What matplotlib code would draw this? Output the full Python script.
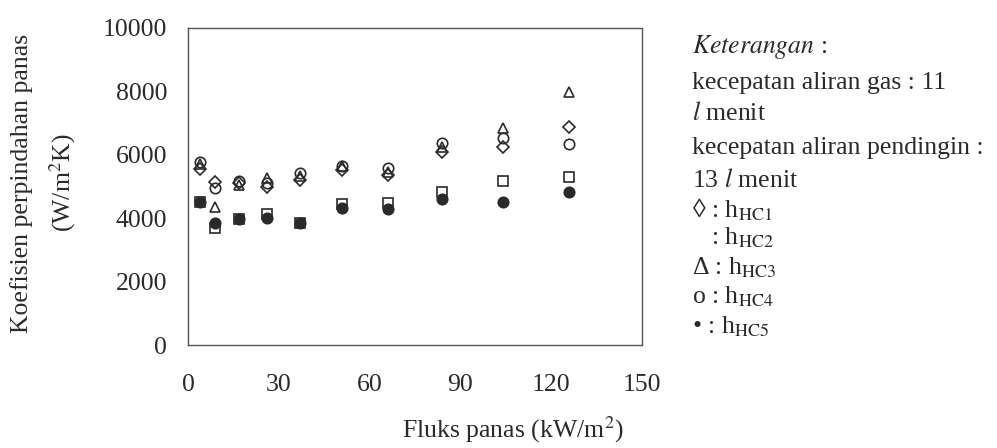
import matplotlib
matplotlib.use("Agg")
import matplotlib.pyplot as plt

plt.rcParams['font.family'] = ['Liberation Serif', 'DejaVu Serif']
plt.rcParams['mathtext.fontset'] = 'stix'

# heat flux (kW/m2)
flux = [4, 9, 17, 26, 37, 51, 66, 84, 104, 126]
# heat transfer coefficients (W/m2K)
h_hc1 = [5550, 5140, 5110, 4990, 5210, 5520, 5360, 6100, 6260, 6890]
h_hc2 = [4520, 3690, 3970, 4130, 3840, 4440, 4490, 4840, 5180, 5310]
h_hc3 = [5710, 4360, 5050, 5270, 5330, 5650, 5470, 6260, 6840, 7970]
h_hc4 = [5780, 4950, 5170, 5110, 5420, 5650, 5580, 6380, 6520, 6330]
h_hc5 = [4520, 3860, 3970, 4010, 3840, 4310, 4280, 4600, 4520, 4840]

x_ticks = [0, 30, 60, 90, 120, 150]
y_ticks = [0, 2000, 4000, 6000, 8000, 10000]

ink = '#2a2a2a'
fs = 18.5
fig = plt.figure(figsize=(9.97, 4.48), dpi=100)
ax = fig.add_axes([0.1886, 0.2299, 0.4554, 0.7076])

ms = 7.5
ax.plot(flux, h_hc2, 's', ms=ms, mfc='white', mec=ink, mew=1.2, zorder=3)
ax.plot(flux, h_hc5, 'o', ms=ms, mfc=ink, mec=ink, mew=1.2, zorder=4)
ax.plot(flux, h_hc4, 'o', ms=ms, mfc='none', mec=ink, mew=1.2, zorder=5)
ax.plot(flux, h_hc1, 'D', ms=ms*0.75, mfc='none', mec=ink, mew=1.2, zorder=5)
ax.plot(flux, h_hc3, '^', ms=ms*0.95, mfc='none', mec=ink, mew=1.2, zorder=5)

ax.set_xlim(0, 150)
ax.set_ylim(0, 10000)
ax.set_xticks(x_ticks)
ax.set_yticks(y_ticks)
ax.tick_params(length=0, labelsize=fs, colors=ink)
ax.tick_params(axis='y', pad=15)
ax.tick_params(axis='x', pad=21)
for s in ax.spines.values():
    s.set_color('#555555')
    s.set_linewidth(1.0)

fig.text(513/997, 1 - 430/448, 'Fluks panas (kW/m$^2$)', ha='center', va='center',
         fontsize=fs, color=ink)
fig.text(22/997, 1 - 183/448, 'Koefisien perpindahan panas', rotation=90,
         ha='center', va='center', fontsize=fs, color=ink)
fig.text(63/997, 1 - 183/448, '(W/m$^2$K)', rotation=90,
         ha='center', va='center', fontsize=fs, color=ink)

lx = 692/997
lines = [
    (47, r'$\it{Keterangan}$ :'),
    (83, 'kecepatan aliran gas : 11'),
    (113, r'$\it{l}$ menit'),
    (148, 'kecepatan aliran pendingin :'),
    (180, r'13 $\it{l}$ menit'),
    (210, '◊ : h$_{\\mathrm{HC1}}$'),
    (238, '   : h$_{\\mathrm{HC2}}$'),
    (268, 'Δ : h$_{\\mathrm{HC3}}$'),
    (297, 'o : h$_{\\mathrm{HC4}}$'),
    (327, '• : h$_{\\mathrm{HC5}}$'),
]
for y, t in lines:
    fig.text(lx, 1 - y/448, t, ha='left', va='center', fontsize=fs, color=ink)

fig.savefig('out.png', dpi=100)
